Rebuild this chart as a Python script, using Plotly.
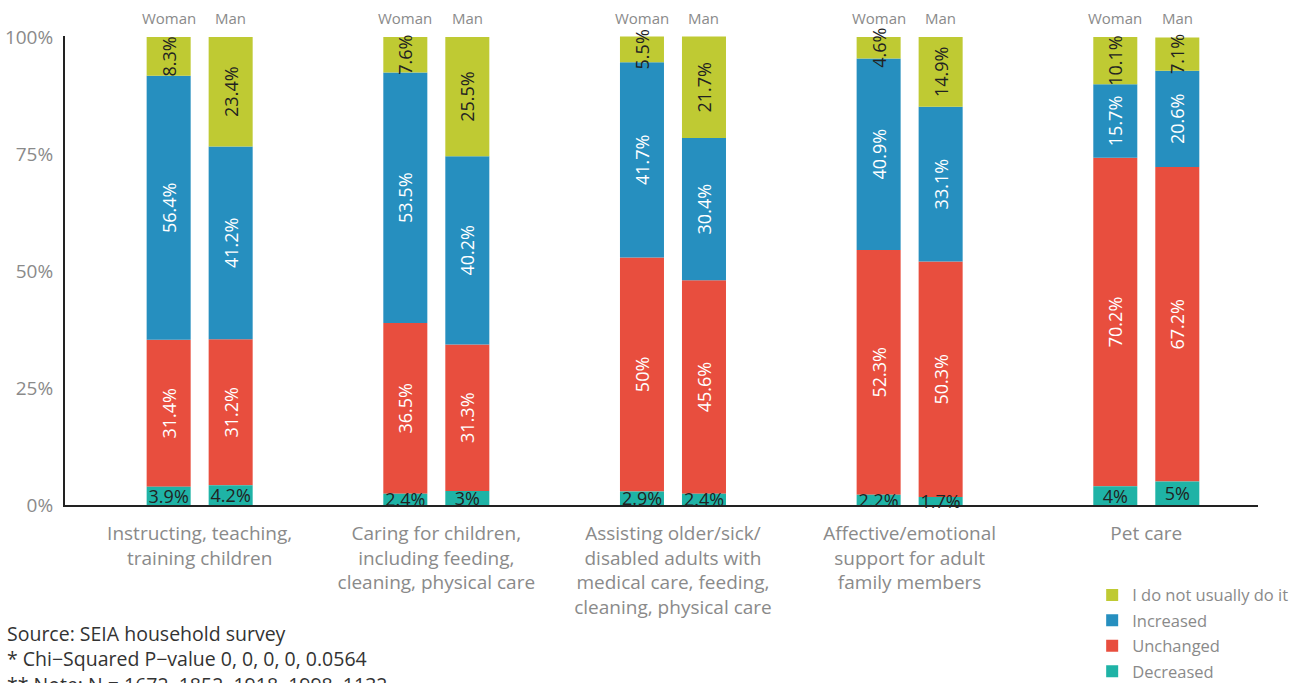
import plotly.graph_objects as go

categories = [
    "Instructing, teaching,<br>training children",
    "Caring for children,<br>including feeding,<br>cleaning, physical care",
    "Assisting older/sick/<br>disabled adults with<br>medical care, feeding,<br>cleaning, physical care",
    "Affective/emotional<br>support for adult<br>family members",
    "Pet care",
]
genders = ["Woman", "Man"]
series_names = ["Unchanged", "Increased", "I do not usually do it", "Decreased"]

woman_decreased = [3.9, 2.4, 2.9, 2.2, 4]
woman_unchanged = [31.4, 36.5, 50, 52.3, 70.2]
woman_increased = [56.4, 53.5, 41.7, 40.9, 15.7]
woman_not_usually = [8.3, 7.6, 5.5, 4.6, 10.1]

man_decreased = [4.2, 3, 2.4, 1.7, 5]
man_unchanged = [31.2, 31.3, 45.6, 50.3, 67.2]
man_increased = [41.2, 40.2, 30.4, 33.1, 20.6]
man_not_usually = [23.4, 25.5, 21.7, 14.9, 7.1]

y_tick_values = [0, 25, 50, 75, 100]
y_tick_labels = ["0%", "25%", "50%", "75%", "100%"]

notes = [
    "Source: SEIA household survey",
    "* Chi\u2212Squared P\u2212value 0, 0, 0, 0, 0.0564",
    "** Note: N = 1672, 1852, 1918, 1998, 1132",
]

data = {
    "Woman": {
        "Decreased": woman_decreased,
        "Unchanged": woman_unchanged,
        "Increased": woman_increased,
        "I do not usually do it": woman_not_usually,
    },
    "Man": {
        "Decreased": man_decreased,
        "Unchanged": man_unchanged,
        "Increased": man_increased,
        "I do not usually do it": man_not_usually,
    },
}

stack_order = ["Decreased", "Unchanged", "Increased", "I do not usually do it"]
colors = {
    "I do not usually do it": "#BFCA33",
    "Increased": "#268FBF",
    "Unchanged": "#E84E3E",
    "Decreased": "#1FB3A6",
}
text_colors = {
    "I do not usually do it": "#222222",
    "Increased": "#FFFFFF",
    "Unchanged": "#FFFFFF",
    "Decreased": "#222222",
}
legend_rank = {"I do not usually do it": 1, "Increased": 2, "Unchanged": 3, "Decreased": 4}

FONT = "Open Sans"
BAR_W = 0.186
OFFSETS = {"Woman": -0.224, "Man": 0.038}

fig = go.Figure()

for gender in genders:
    bases = {}
    running = [0.0] * len(categories)
    for s in stack_order:
        bases[s] = list(running)
        running = [r + v for r, v in zip(running, data[gender][s])]
    for s in series_names:
        vals = data[gender][s]
        fig.add_trace(go.Bar(
            x=categories,
            y=vals,
            base=bases[s],
            name=s,
            legendgroup=s,
            legendrank=legend_rank[s],
            showlegend=(gender == "Woman"),
            offset=OFFSETS[gender],
            width=BAR_W,
            marker=dict(color=colors[s], line=dict(width=0)),
            text=[f"{v:g}%" for v in vals],
            textposition="inside",
            insidetextanchor="middle",
            textangle=0 if s == "Decreased" else -90,
            constraintext="none",
            textfont=dict(family=FONT, size=18, color=text_colors[s]),
            cliponaxis=False,
            hovertemplate=gender + " – " + s + ": %{y}%<extra></extra>",
        ))

annotations = []
for cat in categories:
    for gender, shift in (("Woman", -31), ("Man", 31)):
        annotations.append(dict(
            x=cat, xref="x", y=1, yref="paper",
            xanchor="center", yanchor="bottom",
            xshift=shift, yshift=6,
            text=gender, showarrow=False,
            font=dict(family=FONT, size=15, color="#8a8a8a"),
        ))

for i, line in enumerate(notes):
    annotations.append(dict(
        x=-0.0505, xref="paper",
        y=-0.273 - i * 0.0545, yref="paper",
        xanchor="left", yanchor="middle",
        text=line, showarrow=False, align="left",
        font=dict(family=FONT, size=19.5, color="#333333"),
    ))

fig.update_layout(
    width=1306,
    height=683,
    margin=dict(l=65, r=48, t=36, b=178, autoexpand=False),
    barmode="overlay",
    plot_bgcolor="white",
    paper_bgcolor="white",
    font=dict(family=FONT, color="#8a8a8a"),
    showlegend=True,
    legend=dict(
        x=0.861, xanchor="left",
        y=-0.155, yanchor="top",
        font=dict(family=FONT, size=16.5, color="#8a8a8a"),
        tracegroupgap=1,
        bgcolor="rgba(0,0,0,0)",
    ),
    annotations=annotations,
    xaxis=dict(
        type="category",
        range=[-0.569, 4.472],
        automargin=False,
        showline=True, linecolor="#222222", linewidth=2,
        showgrid=False, zeroline=False,
        ticks="", ticklabelstandoff=10,
        tickfont=dict(family=FONT, size=19, color="#8a8a8a"),
    ),
    yaxis=dict(
        range=[0, 100.2],
        automargin=False,
        tickvals=y_tick_values, ticktext=y_tick_labels,
        showline=True, linecolor="#222222", linewidth=2,
        showgrid=False, zeroline=False,
        ticks="", ticklabelstandoff=6,
        tickfont=dict(family=FONT, size=19, color="#8a8a8a"),
    ),
)

fig.write_html(
    "out.html",
    config={"displayModeBar": False},
    post_script="document.body.style.margin='0';document.body.style.overflow='hidden';",
)
